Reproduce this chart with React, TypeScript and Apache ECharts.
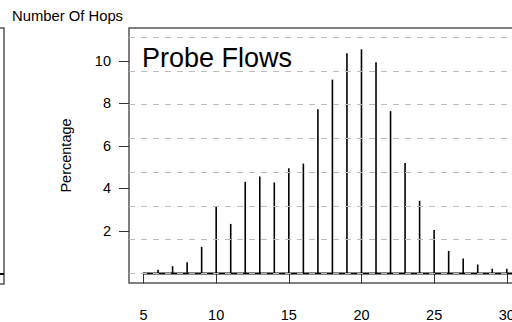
import React, { useEffect, useRef } from "react";
import * as echarts from "echarts";

const hops = [5, 6, 7, 8, 9, 10, 11, 12, 13, 14, 15, 16, 17, 18, 19, 20, 21, 22, 23, 24, 25, 26, 27, 28, 29, 30];
const percentage = [0.04, 0.17, 0.34, 0.53, 1.25, 3.17, 2.33, 4.31, 4.56, 4.28, 4.95, 5.17, 7.73, 9.12, 10.36, 10.55, 9.94, 7.64, 5.2, 3.42, 2.04, 1.06, 0.7, 0.42, 0.22, 0.22];
const xTicks = [5, 10, 15, 20, 25, 30];
const yTicks = [2, 4, 6, 8, 10];
const gridLevels = [0, 1.587, 3.175, 4.762, 6.349, 7.937, 9.524, 11.111];

const X_MIN = 4;
const X_MAX = 31;
const Y_MIN = -0.45;
const Y_MAX = 11.55;
const FONT = "'Liberation Sans', Arial, Helvetica, sans-serif";

export default function App() {
  const ref = useRef<HTMLDivElement>(null);
  useEffect(() => {
    if (!ref.current) return;
    const chart = echarts.init(ref.current, null, { renderer: "svg" });
    chart.setOption({
      animation: false,
      backgroundColor: "#fff",
      textStyle: { fontFamily: FONT },
      title: {
        text: "Probe Flows",
        left: 142,
        top: 44,
        padding: 0,
        textStyle: { fontSize: 27, fontWeight: "normal", color: "#000", fontFamily: FONT },
      },
      grid: {
        left: 129,
        top: 28,
        width: (X_MAX - X_MIN) * 14.53,
        height: 256,
        show: true,
        borderColor: "#555",
        borderWidth: 1.5,
        backgroundColor: "transparent",
      },
      xAxis: {
        type: "value",
        min: X_MIN,
        max: X_MAX,
        axisLine: { show: false },
        splitLine: { show: false },
        axisTick: { show: true, length: 10, inside: false, customValues: xTicks, lineStyle: { color: "#333", width: 1 } },
        axisLabel: { customValues: xTicks, margin: 24, fontSize: 14.5, color: "#000", fontFamily: FONT },
      },
      yAxis: {
        type: "value",
        min: Y_MIN,
        max: Y_MAX,
        name: "Percentage",
        nameLocation: "middle",
        nameRotate: 90,
        nameGap: 56,
        nameTextStyle: { fontSize: 14.5, color: "#000", fontFamily: FONT },
        axisLine: { show: false },
        splitLine: { show: false },
        axisTick: { show: true, length: 10, inside: false, customValues: yTicks, lineStyle: { color: "#333", width: 1 } },
        axisLabel: { customValues: yTicks, margin: 18, fontSize: 14.5, color: "#000", fontFamily: FONT },
      },
      series: [
        {
          type: "line",
          data: [[hops[0], 0], [X_MAX, 0]],
          symbol: "none",
          lineStyle: { color: "#000", width: 2 },
          z: 2,
          silent: true,
        },
        {
          type: "line",
          data: [],
          z: 3,
          silent: true,
          markLine: {
            silent: true,
            symbol: "none",
            label: { show: false },
            lineStyle: { color: "#bbb", type: [6, 6], width: 1.2 },
            data: gridLevels.map((v) => ({ yAxis: v })),
          },
        },
        {
          type: "bar",
          data: hops.map((h, i) => [h, percentage[i]]),
          barWidth: 1.6,
          itemStyle: { color: "#000" },
          z: 4,
          silent: true,
        },
      ],
      graphic: [
        {
          type: "text",
          left: 12,
          top: 8,
          style: { text: "Number Of Hops", fontSize: 14.8, fill: "#000", fontFamily: FONT },
        },
        {
          type: "rect",
          shape: { x: -20, y: 28, width: 24, height: 256 },
          style: { fill: "none", stroke: "#555", lineWidth: 1.5 },
        },
        {
          type: "line",
          shape: { x1: 0, y1: 274, x2: 4, y2: 274 },
          style: { stroke: "#000", lineWidth: 2 },
        },
      ],
    });
    return () => chart.dispose();
  }, []);
  return <div ref={ref} style={{ position: "fixed", left: 0, top: 0, width: 540, height: 322 }} />;
}
